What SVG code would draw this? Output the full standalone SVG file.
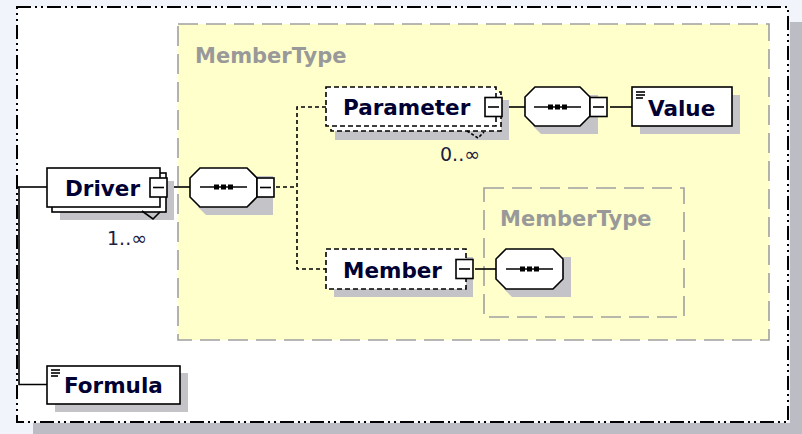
<svg xmlns="http://www.w3.org/2000/svg" width="802" height="434" viewBox="0 0 802 434">
<style>
.lbl{font-family:"DejaVu Sans",sans-serif;font-weight:bold;font-size:21.5px;fill:#000033}
.tlbl{font-family:"DejaVu Sans",sans-serif;font-weight:bold;font-size:21px;fill:#999999}
.mult{font-family:"DejaVu Sans",sans-serif;font-size:19px;fill:#202040}
.box{fill:#ffffff;stroke:#000000;stroke-width:1.6}
.dbox{fill:#ffffff;stroke:#000000;stroke-width:1.6;stroke-dasharray:5 3}
.sh{fill:#c4c4c8}
.ln{stroke:#000000;stroke-width:1.6;fill:none}
.dln{stroke:#000000;stroke-width:1.6;fill:none;stroke-dasharray:4 3}
.type{fill:#ffffcc;stroke:#a0a0a0;stroke-width:1.6;stroke-dasharray:20 8}
.type2{fill:none;stroke:#a0a0a0;stroke-width:1.6;stroke-dasharray:20 8}
</style>
<defs>
<g id="minus"><rect x="0" y="0" width="17" height="19" class="box"/><line x1="3" y1="9.5" x2="14" y2="9.5" class="ln"/></g>
<g id="seqicon"><line x1="0" y1="0" x2="47" y2="0" class="ln"/><rect x="14" y="-2.5" width="5" height="5" fill="#000"/><rect x="21" y="-2.5" width="5" height="5" fill="#000"/><rect x="28" y="-2.5" width="5" height="5" fill="#000"/></g>
<g id="txticon"><line x1="0" y1="0" x2="9" y2="0" class="ln" stroke-width="1.2"/><line x1="0" y1="3" x2="9" y2="3" class="ln" stroke-width="1.2"/><line x1="0" y1="6" x2="7" y2="6" class="ln" stroke-width="1.2"/></g>
</defs>
<rect x="0" y="0" width="802" height="434" fill="#f1f4fa"/>
<rect x="790" y="22" width="12" height="412" fill="#bcbcc4"/>
<rect x="33" y="423" width="769" height="11" fill="#bcbcc4"/>
<rect x="17" y="7" width="771" height="415" fill="#ffffff" stroke="#000" stroke-width="2" stroke-dasharray="14 4 2 4 2 4"/>

<g id="type-outer">
<rect x="178" y="24" width="591" height="316" class="type"/>
<text x="195" y="63" class="tlbl">MemberType</text>
</g>
<g id="type-inner">
<rect x="484" y="188" width="200" height="129" class="type2"/>
<text x="500" y="226" class="tlbl">MemberType</text>
</g>

<g id="connectors">
<line x1="17" y1="187" x2="47" y2="187" class="ln"/>
<polyline points="19,187 19,384.5 47,384.5" class="ln"/>
<line x1="167" y1="187" x2="190" y2="187" class="ln"/>
<polyline points="276,187 297,187" class="dln"/>
<polyline points="326,107 297,107 297,269 326,269" class="dln"/>
<line x1="503" y1="107" x2="525" y2="107" class="ln"/>
<line x1="610" y1="107" x2="632" y2="107" class="ln"/>
<line x1="475" y1="269" x2="496" y2="269" class="ln"/>
</g>

<g id="driver">
<rect x="60" y="181" width="114" height="39" class="sh"/>
<rect x="52" y="173" width="114" height="39" class="box"/>
<rect x="47" y="168" width="113" height="39" class="box"/>
<polyline points="142,211 153,219 160,212" class="ln" stroke-width="1.2"/>
<text x="65" y="196" class="lbl">Driver</text>
<use href="#minus" x="150" y="178"/>
<text x="107" y="245" class="mult">1..∞</text>
</g>

<g id="seq1">
<path d="M206,176 H273 V215 H206 L198,207 Z" class="sh"/>
<path d="M200,168 H247 L257,178 V197 L247,207 H200 L190,197 V178 Z" class="box"/>
<use href="#seqicon" x="200" y="187"/>
<use href="#minus" x="257" y="178"/>
</g>

<g id="parameter">
<rect x="335" y="100" width="174" height="40" class="sh"/>
<rect x="331" y="92" width="170" height="39" class="dbox"/>
<rect x="326" y="87" width="170" height="39" class="dbox"/>
<polyline points="467,131 478,138 484,132" class="ln" stroke-width="1.2" stroke-dasharray="3 2"/>
<text x="343" y="115" class="lbl">Parameter</text>
<use href="#minus" x="485" y="97.5"/>
<text x="440" y="161" class="mult">0..∞</text>
</g>

<g id="seq2">
<path d="M541,95 H598 V134 H541 L533,126 Z" class="sh"/>
<path d="M535,87 H580 L590,97 V116 L580,126 H535 L525,116 V97 Z" class="box"/>
<use href="#seqicon" x="534" y="107"/>
<use href="#minus" x="590" y="97.5"/>
</g>

<g id="value">
<rect x="640" y="95" width="100" height="39" class="sh"/>
<rect x="632" y="87" width="100" height="39" class="box"/>
<use href="#txticon" x="636" y="92"/>
<text x="648" y="116" class="lbl">Value</text>
</g>

<g id="member">
<rect x="334" y="257" width="139" height="40" class="sh"/>
<rect x="326" y="249" width="140" height="40" class="dbox"/>
<text x="343" y="278" class="lbl">Member</text>
<use href="#minus" x="456" y="259.5"/>
</g>

<g id="seq3">
<path d="M512,257 H571 V297 H512 L504,289 Z" class="sh"/>
<path d="M506,249 H553 L563,259 V279 L553,289 H506 L496,279 V259 Z" class="box"/>
<use href="#seqicon" x="506" y="269"/>
</g>

<g id="formula">
<rect x="55" y="373" width="133" height="39" class="sh"/>
<rect x="47" y="366" width="133" height="38" class="box"/>
<use href="#txticon" x="51" y="370"/>
<text x="64" y="393" class="lbl">Formula</text>
</g>
</svg>
